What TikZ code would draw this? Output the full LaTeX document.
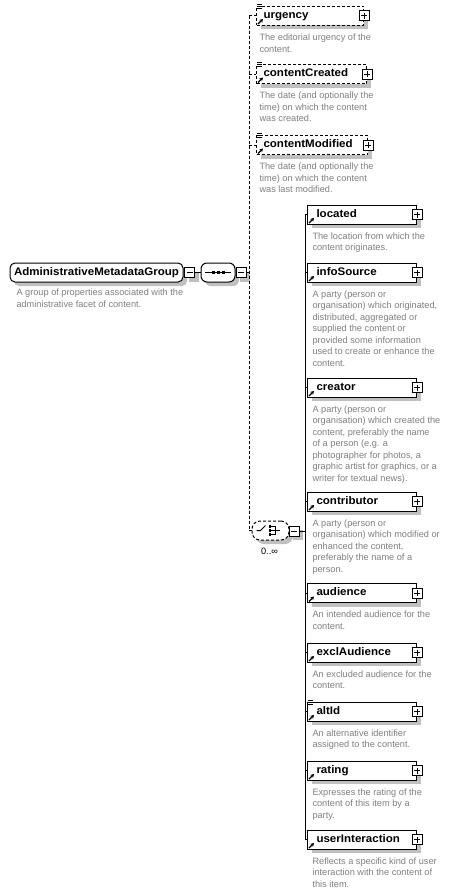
\documentclass[tikz,border=0pt]{standalone}
\usepackage{fontspec}
\setmainfont{Liberation Sans}
\newfontfamily\elfam[FakeStretch=1.05]{Liberation Sans}
\usetikzlibrary{shadows,arrows.meta}
\definecolor{desccol}{HTML}{808080}
\definecolor{shadcol}{HTML}{C0C0C0}
\newcommand\elfont{\elfam\bfseries\fontsize{11}{13}\selectfont}
\newcommand\descfont{\fontsize{9.2}{11.5}\selectfont}
\newcommand\refarr[1]{\draw[line width=1.3pt,-{Stealth[length=3.5pt,width=4pt]}] ([xshift=2pt,yshift=1.5pt]#1.south west) -- ++(5pt,5pt);}
\newcommand\attricon[1]{\foreach \dy in {1.5,-0.5,-2.5} \draw[line width=0.8pt] ([xshift=1pt,yshift=\dy pt]#1.north west) -- ++(5pt,0pt);}
\begin{document}
\begin{tikzpicture}[x=1pt,y=-1pt,line width=1pt,
  shd/.style={general shadow={fill=shadcol, shadow xshift=4pt, shadow yshift=-4pt}},
  elbox/.style={rectangle, draw, fill=white, shd, inner xsep=0pt, inner ysep=0pt,
    minimum height=19pt, text width=#1, align=left, anchor=west,
    text height=8pt, text depth=2.5pt, font=\elfont},
  optbox/.style={elbox=#1, dash pattern=on 3pt off 2pt},
  grp/.style={rectangle, rounded corners=5pt, draw, fill=white, shd, minimum height=19pt,
    minimum width=173pt, inner sep=0pt, font=\elfont, text height=8pt, text depth=2.5pt},
  compo/.style={rectangle, rounded corners=#1, draw, fill=white, shd,
    minimum height=19pt, inner sep=0pt},
  pmbox/.style={rectangle, draw, fill=white, minimum size=10pt, inner sep=0pt, line width=1pt},
  plusb/.style={pmbox, path picture={\draw[line width=1pt]
    ([xshift=2pt]path picture bounding box.west) -- ([xshift=-2pt]path picture bounding box.east)
    ([yshift=-2pt]path picture bounding box.north) -- ([yshift=2pt]path picture bounding box.south);}},
  minusb/.style={pmbox, shd, path picture={\draw[line width=1pt]
    ([xshift=2pt]path picture bounding box.west) -- ([xshift=-2pt]path picture bounding box.east);}},
  desc/.style={anchor=north west, inner sep=0pt, align=left, font=\descfont, text=desccol},
  dsh/.style={dash pattern=on 3pt off 2pt}
]
\fill[white] (0,0) rectangle (450,895);
\useasboundingbox (0,0) rectangle (450,895);
\coordinate (drail) at (249,0);
\coordinate (rail) at (305,0);

% main group
\node[grp] (main) at (96.5,272.5) {AdministrativeMetadataGroup};
\node[minusb] (mainm) at (189.5,272.5) {};
\node[desc] (maind) at (16,288.4) {\rule{0pt}{7pt}A group of properties associated with the\\administrative facet of content.};

% sequence
\node[compo=6pt, minimum width=34pt] (seq) at (218,272.5) {};
\draw[shift={(seq.center)}] (-13,0) -- (13,0);
\foreach \dx in {-5,0,5} \fill[shift={(seq.center)}] (\dx-1.5,-1.5) rectangle (\dx+1.5,1.5);
\node[minusb] (seqm) at (241,272.5) {};
\draw (mainm) -- (seq);
\draw (seqm.east) -- (seqm.east -| drail);

% optional elements
\node[optbox=107pt] (urgency) at (256,15.5) {\hspace*{7pt}urgency};
\node[plusb] (urgency-p) at (urgency.east) {};
\attricon{urgency}\refarr{urgency}
\node[desc] (urgency-d) at (259,33) {\rule{0pt}{7pt}The editorial urgency of the\\content.};

\node[optbox=110pt] (contentCreated) at (256,74) {\hspace*{7pt}contentCreated};
\node[plusb] (contentCreated-p) at (contentCreated.east) {};
\attricon{contentCreated}\refarr{contentCreated}
\node[desc] (contentCreated-d) at (259,91.4) {\rule{0pt}{7pt}The date (and optionally the\\time) on which the content\\was created.};

\node[optbox=111pt] (contentModified) at (256,145) {\hspace*{7pt}contentModified};
\node[plusb] (contentModified-p) at (contentModified.east) {};
\attricon{contentModified}\refarr{contentModified}
\node[desc] (contentModified-d) at (259,162.4) {\rule{0pt}{7pt}The date (and optionally the\\time) on which the content\\was last modified.};

% choice
\node[compo=8pt, dsh, minimum width=37pt] (choice) at (270.5,530.5) {};
\begin{scope}[shift={(choice.center)}]
  \draw (-14,0) -- (-10,0) -- (-5,-5);
  \foreach \dy in {-4,0,4} {\fill (-2,\dy-1.25) rectangle (0.5,\dy+1.25); \draw (0.5,\dy) -- (5,\dy);}
  \draw (5,-4.5) -- (5,4.5) (5,0) -- (9,0);
\end{scope}
\node[minusb] (choicem) at (294,531) {};
\node[font=\descfont, inner sep=0pt] (card) at (269.5,551) {0..∞};

% dashed rail
\draw[dsh] (urgency.west -| drail) -- (choice.west -| drail);
\foreach \n in {urgency,contentCreated,contentModified,choice}
  \draw[dsh] (\n.west -| drail) -- (\n.west);

% choice children
\node[elbox=109pt] (located) at (307,214.5) {\hspace*{9pt}located};
\node[desc] (located-d) at (312,231.9) {\rule{0pt}{7pt}The location from which the\\content originates.};
\node[elbox=109pt] (infoSource) at (307,272.5) {\hspace*{9pt}infoSource};
\node[desc] (infoSource-d) at (312,289.9) {\rule{0pt}{7pt}A party (person or\\organisation) which originated,\\distributed, aggregated or\\supplied the content or\\provided some information\\used to create or enhance the\\content.};
\node[elbox=109pt] (creator) at (307,387.5) {\hspace*{9pt}creator};
\node[desc] (creator-d) at (312,404.9) {\rule{0pt}{7pt}A party (person or\\organisation) which created the\\content, preferably the name\\of a person (e.g. a\\photographer for photos, a\\graphic artist for graphics, or a\\writer for textual news).};
\node[elbox=109pt] (contributor) at (307,501.5) {\hspace*{9pt}contributor};
\node[desc] (contributor-d) at (312,518.9) {\rule{0pt}{7pt}A party (person or\\organisation) which modified or\\enhanced the content,\\preferably the name of a\\person.};
\node[elbox=109pt] (audience) at (307,593) {\hspace*{9pt}audience};
\node[desc] (audience-d) at (312,610.4) {\rule{0pt}{7pt}An intended audience for the\\content.};
\node[elbox=109pt] (exclAudience) at (307,652.5) {\hspace*{9pt}exclAudience};
\node[desc] (exclAudience-d) at (312,669.9) {\rule{0pt}{7pt}An excluded audience for the\\content.};
\node[elbox=109pt] (altId) at (307,711.5) {\hspace*{9pt}altId};
\node[desc] (altId-d) at (312,728.9) {\rule{0pt}{7pt}An alternative identifier\\assigned to the content.};
\node[elbox=109pt] (rating) at (307,770.5) {\hspace*{9pt}rating};
\node[desc] (rating-d) at (312,787.9) {\rule{0pt}{7pt}Expresses the rating of the\\content of this item by a\\party.};
\node[elbox=109pt] (userInteraction) at (307,839.5) {\hspace*{9pt}userInteraction};
\node[desc] (userInteraction-d) at (312,856.9) {\rule{0pt}{7pt}Reflects a specific kind of user\\interaction with the content of\\this item.};

\foreach \n in {located,infoSource,creator,contributor,audience,exclAudience,altId,rating,userInteraction} {
  \node[plusb] (\n-p) at (\n.east) {};
  \refarr{\n}
  \draw (\n.west -| rail) -- (\n.west);
}
\attricon{altId}
\draw (located.west -| rail) -- (userInteraction.west -| rail);
\draw (choicem.east) -- (choicem.east -| rail);
\end{tikzpicture}
\end{document}
